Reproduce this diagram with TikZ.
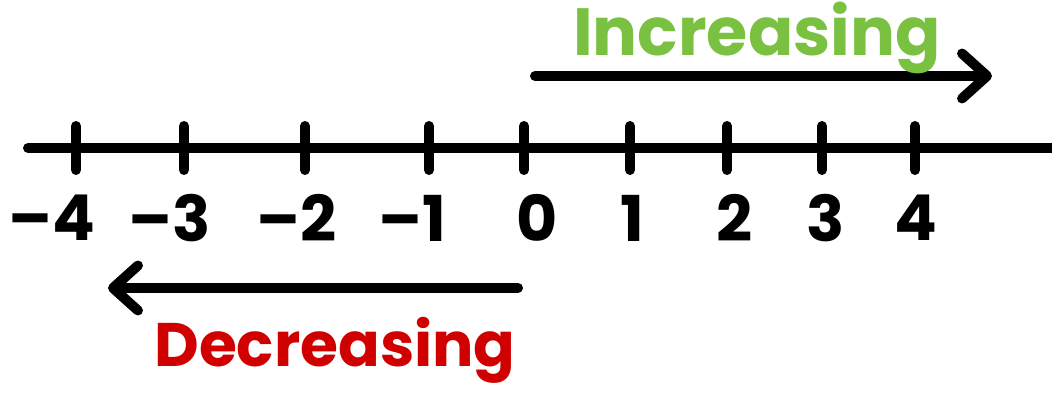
\documentclass[tikz,border=0pt]{standalone}
\usepackage{fontspec}
\setmainfont{Poppins}
\usepackage{xcolor}
\usetikzlibrary{arrows.meta}
\definecolor{incgreen}{RGB}{122,193,66}
\definecolor{decred}{RGB}{208,0,0}

\begin{document}
\begin{tikzpicture}[x=0.02cm, y=-0.02cm,
    inkline/.style={line width=10pt*0.02/0.0352778, line cap=round, line join=round, black},
    dirarrow/.style={inkline, -{Straight Barb[length=5mm, width=9mm, line cap=round, line join=round]}},
    numlabel/.style={font=\fontsize{36}{36}\selectfont\bfseries, inner sep=0pt},
    dirlabel/.style={font=\fontsize{38}{38}\selectfont\bfseries, inner sep=0pt}]
      \useasboundingbox (0,0) rectangle (1052,405);
      % number line
      \coordinate (lstart) at (28,148);
      \coordinate (lend) at (1060,148);
      \draw[inkline] (lstart) -- (lend);
      \foreach \tx/\lx/\lab [count=\i] in {76/52/–4, 184/170/–3, 305/297/–2, 429/412/–1,
          524/537/0, 630/632/1, 727/735/2, 822/826/3, 915/916/4} {
        \coordinate (ttop\i) at (\tx,126);
        \coordinate (tbot\i) at (\tx,170);
        \draw[inkline] (ttop\i) -- (tbot\i);
        \node[numlabel] (lab\i) at (\lx,218) {\lab};
      }
      % increasing
      \coordinate (incstart) at (535,76);
      \coordinate (incend) at (992,76);
      \draw[dirarrow] (incstart) -- (incend);
      \node[dirlabel, text=incgreen] (inc) at (757,38) {Increasing};
      % decreasing
      \coordinate (decstart) at (518,288);
      \coordinate (decend) at (108,288);
      \draw[dirarrow] (decstart) -- (decend);
      \node[dirlabel, text=decred, font=\fontsize{35}{35}\selectfont\bfseries] (dec) at (335,350) {Decreasing};
\end{tikzpicture}
\end{document}
